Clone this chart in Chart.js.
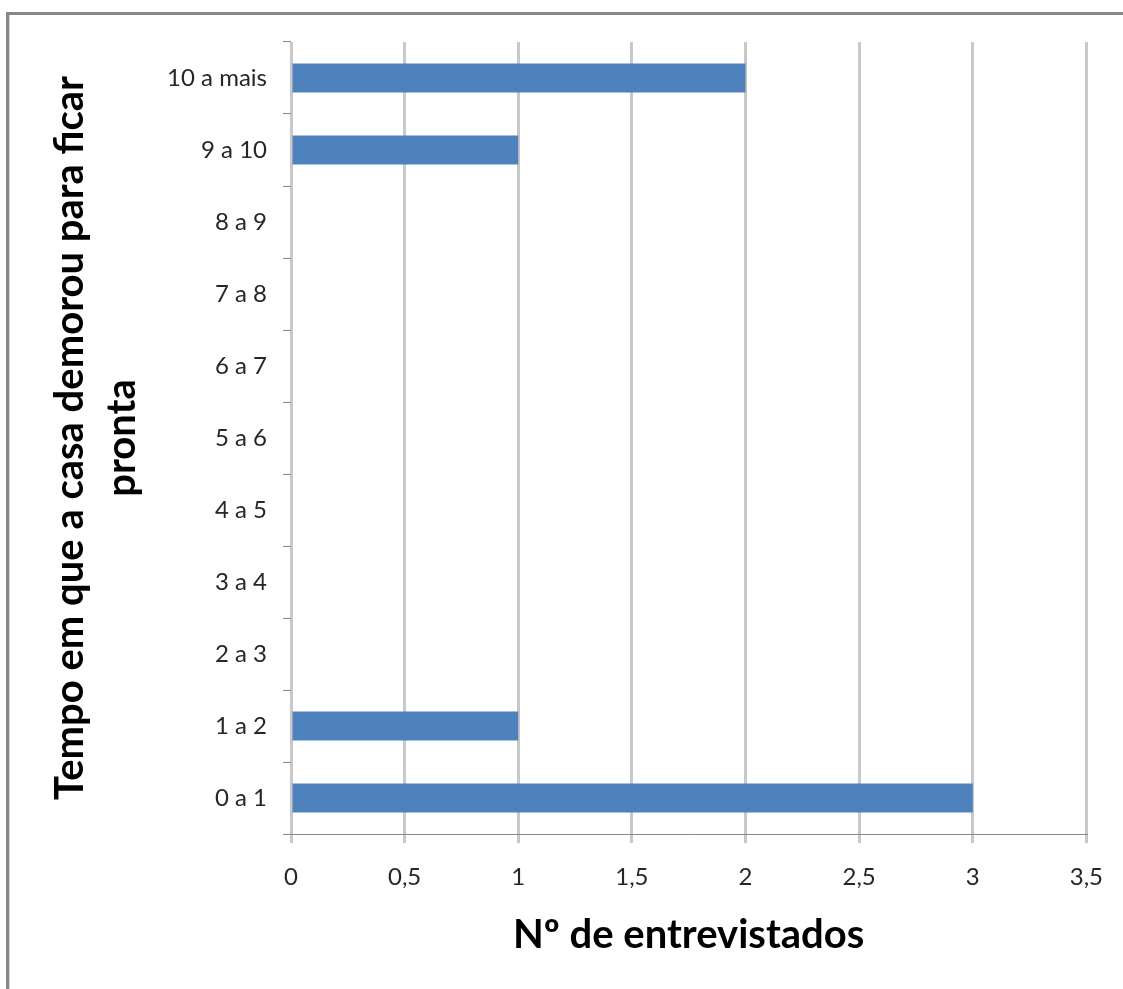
<!DOCTYPE html>
<html>
<head>
<meta charset="utf-8">
<title>Tempo de construção</title>
<script src="https://cdn.jsdelivr.net/npm/chart.js@4/dist/chart.umd.min.js"></script>
<style>
  html, body { margin: 0; padding: 0; background: #fff; }
  canvas { display: block; }
</style>
</head>
<body>
<canvas id="chart" width="1123" height="989"></canvas>
<script>
// Time the house took to be ready (years) and number of interviewees per range
const categories = ['0 a 1', '1 a 2', '2 a 3', '3 a 4', '4 a 5', '5 a 6', '6 a 7', '7 a 8', '8 a 9', '9 a 10', '10 a mais'];
const interviewees = [3, 1, 0, 0, 0, 0, 0, 0, 0, 1, 2];
const xTickValues = [0, 0.5, 1, 1.5, 2, 2.5, 3, 3.5];
const xTickLabels = ['0', '0,5', '1', '1,5', '2', '2,5', '3', '3,5'];
const yTitleLines = ['Tempo em que a casa demorou para ficar', 'pronta'];
const xTitleText = 'Nº de entrevistados';

const FONT = 'Lato, "Liberation Sans", sans-serif';

// White page with the grey frame on the top and left edges
const framePlugin = {
  id: 'frame',
  beforeDraw(chart) {
    const ctx = chart.ctx;
    ctx.save();
    ctx.fillStyle = '#ffffff';
    ctx.fillRect(0, 0, chart.width, chart.height);
    ctx.fillStyle = '#878787';
    ctx.fillRect(6, 12, chart.width, 3);
    ctx.fillRect(6, 12, 3, chart.height);
    ctx.fillStyle = '#d9d9d9';
    ctx.fillRect(9, 15, 1, chart.height);
    ctx.restore();
  }
};

new Chart(document.getElementById('chart'), {
  type: 'bar',
  data: {
    labels: categories,
    datasets: [{
      data: interviewees,
      backgroundColor: '#4f81bd',
      borderWidth: 0,
      barPercentage: 0.4,
      categoryPercentage: 1
    }]
  },
  options: {
    indexAxis: 'y',
    responsive: false,
    devicePixelRatio: 1,
    animation: false,
    layout: { padding: { top: 42, right: 35, bottom: 0, left: 0 } },
    plugins: {
      legend: { display: false },
      tooltip: { enabled: false }
    },
    scales: {
      x: {
        type: 'linear',
        position: 'bottom',
        min: 0,
        max: 3.5,
        ticks: {
          stepSize: 0.5,
          padding: 20,
          color: '#262626',
          font: { family: FONT, size: 24 },
          callback: (value) => {
            const i = xTickValues.indexOf(value);
            return i >= 0 ? xTickLabels[i] : '';
          }
        },
        grid: { color: '#c8c8c8', lineWidth: 3, tickLength: 9 },
        border: { display: true, color: '#888888', width: 1 },
        title: {
          display: true,
          text: xTitleText,
          color: '#000000',
          font: { family: FONT, size: 40, weight: 'bold' },
          padding: { top: 0, bottom: 30 }
        },
        afterFit: (scale) => { scale.height = 155; }
      },
      y: {
        type: 'category',
        reverse: true,
        position: 'left',
        offset: true,
        ticks: {
          padding: 16,
          color: '#262626',
          font: { family: FONT, size: 24 }
        },
        grid: {
          offset: true,
          drawOnChartArea: false,
          color: '#888888',
          lineWidth: 1,
          tickLength: 8
        },
        border: { display: false },
        title: {
          display: true,
          text: yTitleLines,
          color: '#000000',
          font: { family: FONT, size: 40, weight: 'bold', lineHeight: '52px' },
          padding: { top: 44, bottom: 0 }
        },
        afterFit: (scale) => { scale.width = 291; }
      }
    }
  },
  plugins: [framePlugin]
});
</script>
</body>
</html>
